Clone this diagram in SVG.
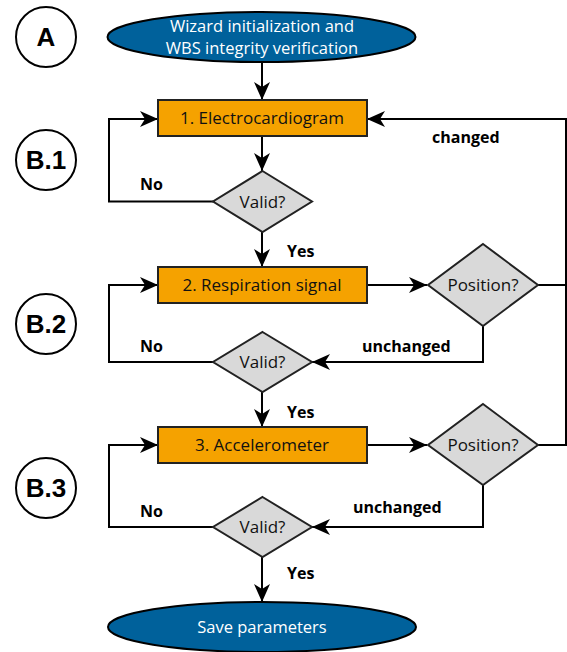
<svg xmlns="http://www.w3.org/2000/svg" width="567" height="652" viewBox="0 0 567 652">
<defs>
<marker id="arr" viewBox="0 0 18 16" refX="18" refY="8" markerWidth="18" markerHeight="16" markerUnits="userSpaceOnUse" orient="auto">
<path d="M0,0 L18,8 L0,16 L5,8 z" fill="#000"/>
</marker>
<style>
.lbl{font-family:"Liberation Sans",Arial,sans-serif;font-weight:bold;font-size:26px;text-anchor:middle;fill:#000}
.circ{fill:#fff;stroke:#000;stroke-width:2}
.term{fill:#00619b;stroke:#000;stroke-width:2}
.box{fill:#f5a200;stroke:#222;stroke-width:2}
.dia{fill:#d9d9d9;stroke:#222;stroke-width:2}
.t{font-family:"Open Sans","Noto Sans",sans-serif;font-size:17px;text-anchor:middle;fill:#111}
.tw{font-family:"Open Sans","Noto Sans",sans-serif;font-size:16.5px;text-anchor:middle;fill:#fff}
.b{font-family:"Open Sans","Noto Sans",sans-serif;font-size:16px;font-weight:bold;fill:#000}
.c{fill:none;stroke:#000;stroke-width:2}
</style>
</defs>
<rect width="567" height="652" fill="#fff"/>
<g id="stageA"><circle class="circ" cx="46" cy="37" r="30"/><text class="lbl" x="46" y="46">A</text></g>
<g id="stageB1"><circle class="circ" cx="46" cy="160" r="30"/><text class="lbl" x="46" y="169">B.1</text></g>
<g id="stageB2"><circle class="circ" cx="46" cy="324" r="30"/><text class="lbl" x="46" y="333">B.2</text></g>
<g id="stageB3"><circle class="circ" cx="46" cy="488" r="30"/><text class="lbl" x="46" y="497">B.3</text></g>
<g id="connectors">
<path class="c" d="M262,62 V100" marker-end="url(#arr)"/>
<path class="c" d="M262,136 V171" marker-end="url(#arr)"/>
<path class="c" d="M213,201.5 H109 V119 H158" marker-end="url(#arr)"/>
<path class="c" d="M262,232 V267" marker-end="url(#arr)"/>
<path class="c" d="M367,285 H427" marker-end="url(#arr)"/>
<path class="c" d="M538,285 H566 V119 H367" marker-end="url(#arr)"/>
<path class="c" d="M483,326 V362 H312" marker-end="url(#arr)"/>
<path class="c" d="M213,362 H109 V285 H158" marker-end="url(#arr)"/>
<path class="c" d="M262,392 V427" marker-end="url(#arr)"/>
<path class="c" d="M367,445 H427" marker-end="url(#arr)"/>
<path class="c" d="M538,445 H566 V285"/>
<path class="c" d="M483,485 V527 H312" marker-end="url(#arr)"/>
<path class="c" d="M213,527 H109 V445 H158" marker-end="url(#arr)"/>
<path class="c" d="M262,557 V602" marker-end="url(#arr)"/>
<text class="b" x="140" y="190">No</text>
<text class="b" x="432" y="143">changed</text>
<text class="b" x="287" y="257">Yes</text>
<text class="b" x="140" y="352">No</text>
<text class="b" x="362" y="352">unchanged</text>
<text class="b" x="287" y="418">Yes</text>
<text class="b" x="140" y="517">No</text>
<text class="b" x="353" y="513">unchanged</text>
<text class="b" x="287" y="579">Yes</text>
</g>
<g id="start"><ellipse class="term" cx="261.5" cy="37" rx="154" ry="25"/><text class="tw" x="262" y="31.5">Wizard initialization and</text><text class="tw" x="262" y="53.5">WBS integrity verification</text></g>
<g id="ecg"><rect class="box" x="158" y="100" width="209" height="36"/><text class="t" x="262" y="124">1. Electrocardiogram</text></g>
<g id="valid1"><polygon class="dia" points="262.5,171 312,201.5 262.5,232 213,201.5"/><text class="t" x="262.5" y="208">Valid?</text></g>
<g id="resp"><rect class="box" x="158" y="267" width="209" height="36"/><text class="t" x="262" y="291">2. Respiration signal</text></g>
<g id="pos1"><polygon class="dia" points="483,244 538,285 483,326 428,285"/><text class="t" x="483" y="291">Position?</text></g>
<g id="valid2"><polygon class="dia" points="262.5,332 312,362 262.5,392 213,362"/><text class="t" x="262.5" y="368">Valid?</text></g>
<g id="accel"><rect class="box" x="158" y="427" width="209" height="36"/><text class="t" x="262" y="451">3. Accelerometer</text></g>
<g id="pos2"><polygon class="dia" points="483,404 538,445 483,485 428,445"/><text class="t" x="483" y="451">Position?</text></g>
<g id="valid3"><polygon class="dia" points="262.5,497 312,527 262.5,557 213,527"/><text class="t" x="262.5" y="533">Valid?</text></g>
<g id="save"><ellipse class="term" cx="262" cy="627" rx="154" ry="25"/><text class="tw" x="262" y="633">Save parameters</text></g>
</svg>
